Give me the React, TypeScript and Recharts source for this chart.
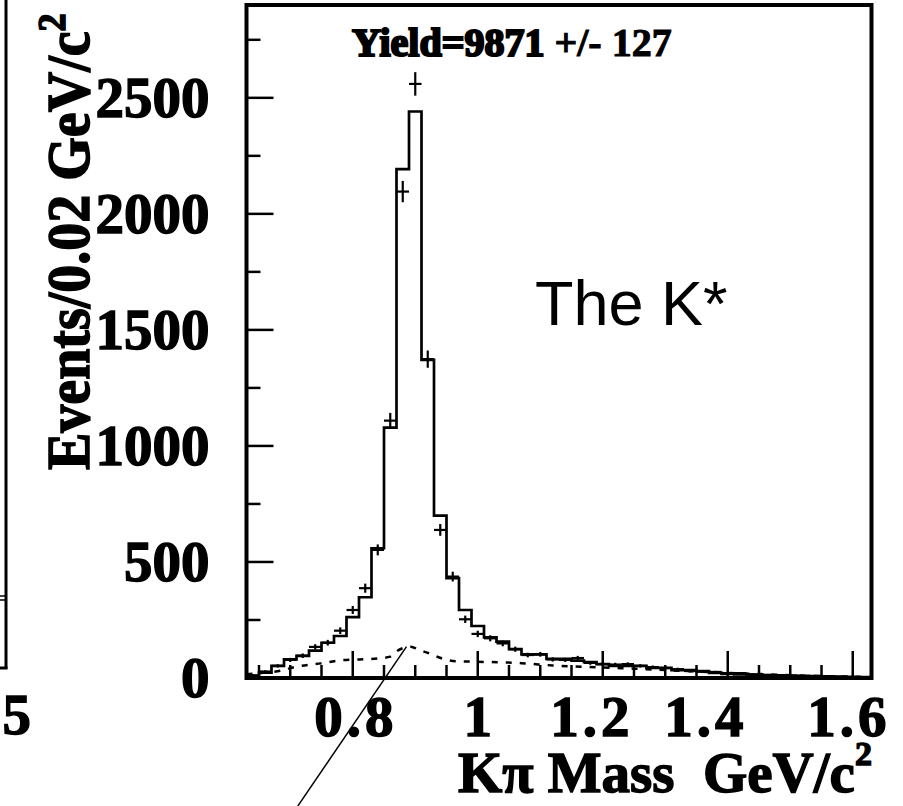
import React from 'react';
import {
  ComposedChart,
  Line,
  Scatter,
  ErrorBar,
  XAxis,
  YAxis,
  ReferenceArea,
  ReferenceLine,
} from 'recharts';

// Kπ invariant mass histogram, 50 bins of 0.02 GeV/c² from 0.63 to 1.63
const binLow = [
  0.63, 0.65, 0.67, 0.69, 0.71, 0.73, 0.75, 0.77, 0.79, 0.81,
  0.83, 0.85, 0.87, 0.89, 0.91, 0.93, 0.95, 0.97, 0.99, 1.01,
  1.03, 1.05, 1.07, 1.09, 1.11, 1.13, 1.15, 1.17, 1.19, 1.21,
  1.23, 1.25, 1.27, 1.29, 1.31, 1.33, 1.35, 1.37, 1.39, 1.41,
  1.43, 1.45, 1.47, 1.49, 1.51, 1.53, 1.55, 1.57, 1.59, 1.61,
];
const massMax = 1.63;
const binHalfWidth = 0.01;

// solid histogram contents per bin
const histCounts = [
  5, 23, 52, 80, 95, 118, 152, 181, 262, 348,
  559, 1079, 2193, 2441, 1371, 700, 430, 293, 224, 175,
  157, 124, 102, 102, 82, 82, 75, 68, 60, 52,
  52, 52, 44, 44, 34, 34, 30, 22, 18, 16,
  14, 13, 11, 10, 9, 8, 7, 6, 5, 4,
];

// measured entries per bin (crosses)
const dataCounts = [
  12, 28, 52, 78, 96, 134, 152, 204, 293, 387,
  552, 1109, 2096, 2560, 1374, 638, 437, 253, 190, 171,
  149, 124, 99, 102, 80, 78, 86, 65, 60, 58,
  60, 52, 47, 43, 38, 30, 27, 26, 21, 21,
  16, 13, 12, 10, 8, 7, 6, 5, 4, 3,
];

// statistical error on each measured bin
const dataErrors = [
  3.5, 5.3, 7.2, 8.8, 9.8, 11.6, 12.3, 14.3, 17.1, 19.7,
  23.5, 33.3, 45.8, 50.6, 37.1, 25.3, 20.9, 15.9, 13.8, 13.1,
  12.2, 11.1, 9.9, 10.1, 8.9, 8.8, 9.3, 8.1, 7.7, 7.6,
  7.7, 7.2, 6.9, 6.6, 6.2, 5.5, 5.2, 5.1, 4.6, 4.6,
  4.0, 3.6, 3.5, 3.2, 2.8, 2.6, 2.4, 2.2, 2.0, 1.7,
];

// dashed component curve
const bgMass = [
  0.63, 0.654, 0.686, 0.708, 0.749, 0.78, 0.81, 0.843, 0.86, 0.872,
  0.884, 0.893, 0.905, 0.923, 0.942, 0.966, 1.0, 1.07, 1.12, 1.2,
  1.25, 1.3, 1.35, 1.4, 1.45, 1.5, 1.55, 1.6, 1.63,
];
const bgCounts = [
  16, 22, 32, 48, 63, 76, 80, 85, 92, 118,
  132, 135, 122, 106, 85, 72, 70, 64, 54, 45,
  40, 34, 28, 22, 17, 12, 8, 5, 4,
];

const yMax = 2900;
const yTicks = [0, 250, 500, 750, 1000, 1250, 1500, 1750, 2000, 2250, 2500, 2750];
const xTicks = [
  0.65, 0.7, 0.75, 0.8, 0.85, 0.9, 0.95, 1.0, 1.05, 1.1, 1.15, 1.2,
  1.25, 1.3, 1.35, 1.4, 1.45, 1.5, 1.55, 1.6,
];
const xMajor = [0.8, 1.0, 1.2, 1.4, 1.6];
const xLabelText: Record<string, string> = {
  '0.8': '0.8',
  '1': '1',
  '1.2': '1.2',
  '1.4': '1.4',
  '1.6': '1.6',
};
// horizontal nudge of each mass label relative to its tick
const xLabelShift: Record<string, number> = {
  '0.8': 3,
  '1': 0,
  '1.2': -11,
  '1.4': -22,
  '1.6': -4,
};

// arrow pointing at the peak of the dashed curve
const arrowTip = { x: 0.886, y: 135 };
const arrowTail = { x: 0.712, y: -552 };

const histData = [
  ...binLow.map((lo, i) => ({ m: lo, v: histCounts[i] })),
  { m: massMax, v: histCounts[histCounts.length - 1] },
];
const pointData = binLow.map((lo, i) => ({
  m: lo + binHalfWidth,
  v: dataCounts[i],
  err: dataErrors[i],
  xerr: binHalfWidth,
}));
const bgData = bgMass.map((m, i) => ({ m, v: bgCounts[i] }));

const SERIF = '"Liberation Serif", "Times New Roman", serif';
const SANS = '"Liberation Sans", Arial, sans-serif';

const YTick = (props: any) => {
  const { x, y, payload } = props;
  const v = payload.value as number;
  const major = v % 500 === 0;
  return (
    <g>
      <line x1={x} x2={x + (major ? 27 : 14)} y1={y} y2={y} stroke="#000" strokeWidth={2.5} />
      {major && (
        <text
          x={x - 37}
          y={y}
          dy={19}
          textAnchor="end"
          fontFamily={SERIF}
          fontWeight={700}
          fontSize={57}
          stroke="#000"
          strokeWidth={1.4}
          fill="#000"
        >
          {v}
        </text>
      )}
    </g>
  );
};

const XTick = (props: any) => {
  const { x, y, payload } = props;
  const v = payload.value as number;
  const major = xMajor.some((t) => Math.abs(t - v) < 1e-6);
  const key = String(Math.round(v * 10) / 10);
  return (
    <g>
      <line x1={x} x2={x} y1={y} y2={y - (major ? 27 : 13)} stroke="#000" strokeWidth={2.5} />
      {major && (
        <text
          x={x + (xLabelShift[key] || 0)}
          y={y + 58}
          textAnchor="middle"
          fontFamily={SERIF}
          fontWeight={700}
          fontSize={57}
          letterSpacing={key.length > 1 ? 4 : 0}
          stroke="#000"
          strokeWidth={1.4}
          fill="#000"
        >
          {xLabelText[key]}
        </text>
      )}
    </g>
  );
};

const noMark = () => <g />;

export default function App() {
  return (
    <div style={{ position: 'absolute', left: 0, top: 0, width: 903, height: 806, background: '#fff' }}>
      <ComposedChart
        width={903}
        height={806}
        margin={{ top: 5, right: 31.5, bottom: 28, left: 46.5 }}
      >
        <XAxis
          dataKey="m"
          type="number"
          domain={[0.63, massMax]}
          ticks={xTicks}
          tick={<XTick />}
          tickSize={0}
          tickMargin={0}
          axisLine={false}
          tickLine={false}
          height={100}
          allowDataOverflow
          interval={0}
        />
        <YAxis
          dataKey="v"
          type="number"
          domain={[0, yMax]}
          ticks={yTicks}
          tick={<YTick />}
          tickSize={0}
          tickMargin={0}
          axisLine={false}
          tickLine={false}
          width={200}
          allowDataOverflow
          interval={0}
        />
        <Line
          data={bgData}
          dataKey="v"
          type="monotone"
          stroke="#000"
          strokeWidth={2.5}
          strokeDasharray="6 8"
          dot={false}
          isAnimationActive={false}
        />
        <Line
          data={histData}
          dataKey="v"
          type="stepAfter"
          stroke="#000"
          strokeWidth={2.7}
          dot={false}
          isAnimationActive={false}
        />
        <Scatter data={pointData} dataKey="v" shape={noMark} isAnimationActive={false}>
          <ErrorBar dataKey="err" direction="y" width={0} stroke="#000" strokeWidth={2.2} isAnimationActive={false} />
          <ErrorBar dataKey="xerr" direction="x" width={0} stroke="#000" strokeWidth={2.2} isAnimationActive={false} />
        </Scatter>
        <ReferenceLine
          segment={[arrowTip, arrowTail]}
          stroke="#000"
          strokeWidth={1.5}
          ifOverflow="visible"
        />
        <ReferenceArea
          x1={0.63}
          x2={massMax}
          y1={0}
          y2={yMax}
          fill="none"
          stroke="#000"
          strokeWidth={4}
          ifOverflow="visible"
        />
      </ComposedChart>
      <svg
        width={903}
        height={806}
        style={{ position: 'absolute', left: 0, top: 0, pointerEvents: 'none' }}
      >
        {/* edge of the neighbouring panel */}
        <line x1={6} x2={6} y1={0} y2={669} stroke="#000" strokeWidth={3} />
        <line x1={0} x2={7.5} y1={668} y2={668} stroke="#000" strokeWidth={3} />
        <line x1={0} x2={6} y1={596} y2={596} stroke="#000" strokeWidth={1.5} />
        <line x1={0} x2={6} y1={600} y2={600} stroke="#000" strokeWidth={1.5} />
        <text x={31} y={734} textAnchor="end" fontFamily={SERIF} fontWeight={700} fontSize={57} stroke="#000" strokeWidth={1.4}>
          5
        </text>
        {/* y-axis title */}
        <text
          transform="translate(89, 470) rotate(-90) scale(1, 1.1)"
          fontFamily={SERIF}
          fontWeight={700}
          fontSize={56}
          stroke="#000"
          strokeWidth={1.4}
        >
          Events/0.02 GeV/c
          <tspan dy={-22} fontSize={36}>2</tspan>
        </text>
        {/* x-axis title */}
        <text
          x={458}
          y={792}
          fontFamily={SERIF}
          fontWeight={700}
          fontSize={57}
          stroke="#000"
          strokeWidth={1.4}
        >
          {'Kπ Mass\u00a0\u00a0GeV/c'}
          <tspan dy={-27} fontSize={34}>2</tspan>
        </text>
        {/* fit result */}
        <text x={352} y={56} fontFamily={SERIF} fontWeight={700} fontSize={40} stroke="#000" strokeWidth={1}>
          <tspan strokeWidth={2.2}>Yield=9871</tspan>
          <tspan> +/- 127</tspan>
        </text>
        <text x={535} y={325} fontFamily={SANS} fontSize={63}>
          The K*
        </text>
      </svg>
    </div>
  );
}
